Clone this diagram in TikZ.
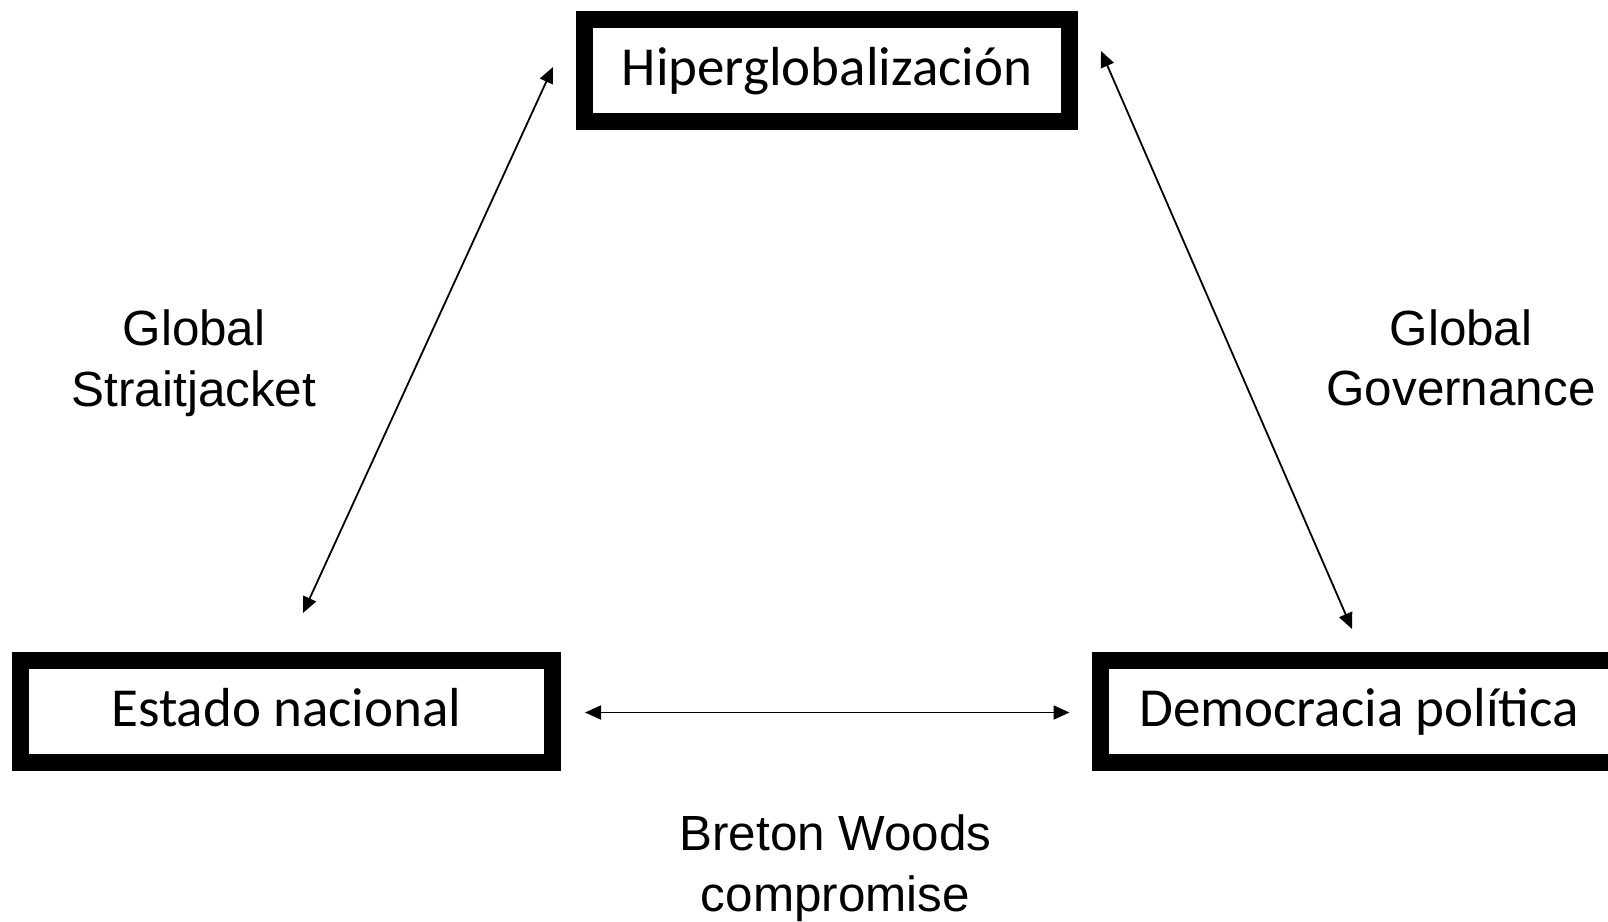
\documentclass[tikz,border=0pt]{standalone}
\usepackage{fontspec}
\setmainfont{Carlito}
\newfontfamily\arialfont{Liberation Sans}
\usetikzlibrary{arrows.meta,calc}
\begin{document}
\begin{tikzpicture}[x=1pt,y=-1pt,
  conceptbox/.style={draw=black, line width=17pt, fill=white, inner sep=0pt, outer sep=0pt,
    minimum height=102pt, font=\fontsize{55}{60}\selectfont, text height=40pt, text depth=10pt},
  arrowlbl/.style={align=center, inner sep=0pt, font=\arialfont\fontsize{49.4}{60.5}\selectfont},
  link/.style={line width=1.8pt, {Triangle[length=16pt,width=14pt]}-{Triangle[length=16pt,width=14pt]}}]
\useasboundingbox (0,0) rectangle (1608,921);

\node[conceptbox, minimum width=485pt] (hiper) at (827,70.5) {Hiperglobalización};
\node[conceptbox, minimum width=532pt] (estado) at (286.5,711.5) {Estado nacional};
\node[conceptbox, minimum width=517pt] (demo) at (1359,711.5) {Democracia política};

\coordinate (hl) at ($(hiper.west)+(-31.5,-3.5)$);
\coordinate (hr) at ($(hiper.east)+(31.5,-19.5)$);
\coordinate (el) at ($(estado.north)+(16.5,-47.5)$);
\coordinate (eh) at ($(estado.east)+(32.5,1)$);
\coordinate (dl) at ($(demo.west)+(-31,1)$);
\coordinate (dt) at ($(demo.north)+(-7,-31.5)$);

\draw[link] (el) -- (hl);
\draw[link] (hr) -- (dt);
\draw[link] (eh) -- (dl);

\node[arrowlbl] (lblS) at (194,363) {Global\\Straitjacket};
\node[arrowlbl] (lblG) at (1461,358) {Global\\Governance};
\node[arrowlbl] (lblB) at (835.5,868) {Breton Woods\\compromise};
\end{tikzpicture}
\end{document}
